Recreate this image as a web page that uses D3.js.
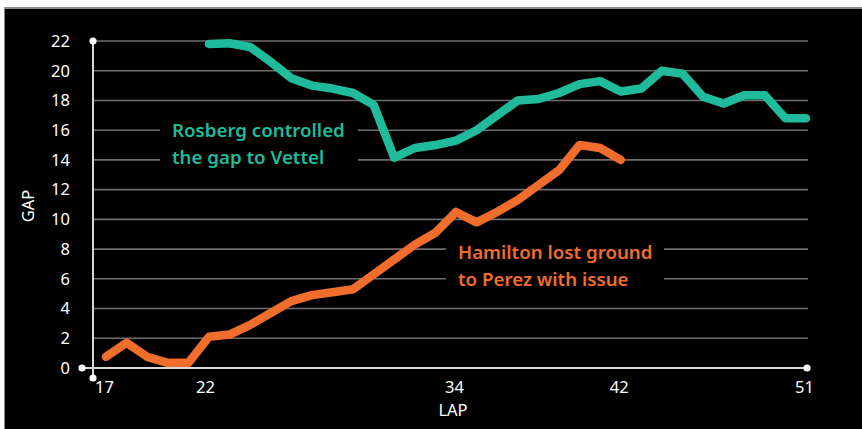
<html>
  <head>
    <title>Rosberg / Hamilton gap chart</title>
  <style type="text/css">
    body{
      margin: 0;
      background: white;
      font-family: "Noto Sans", sans-serif;
    }
  </style>
  </head>
  <body>
    <script src="https://cdn.jsdelivr.net/npm/d3@7"></script>
    <div id="graph_item"></div>
    <script>

// data
var rosbergLaps = [22,23,24,25,26,27,28,29,30,31,32,33,34,35,36,37,38,39,40,41,42,43,44,45,46,47,48,49,50,51];
var rosbergGap = [21.8,21.85,21.6,20.6,19.5,19.0,18.8,18.5,17.7,14.15,14.8,15.0,15.3,16.0,17.0,18.0,18.1,18.5,19.1,19.3,18.6,18.8,20.0,19.8,18.25,17.8,18.35,18.35,16.8,16.8];

var hamiltonLaps = [17,18,19,20,21,22,23,24,25,26,27,28,29,30,31,32,33,34,35,36,37,38,39,40,41,42];
var hamiltonGap = [0.75,1.7,0.75,0.35,0.35,2.1,2.25,2.9,3.7,4.5,4.9,5.1,5.3,6.3,7.3,8.3,9.1,10.5,9.8,10.5,11.3,12.3,13.3,15.0,14.8,14.0];

var yTicks = [0,2,4,6,8,10,12,14,16,18,20,22];
var xTicks = [17,22,34,42,51];

var teal = "#1fbb9b",
    orange = "#f06d2b";

var svg = d3.select("#graph_item")
  .append("svg")
    .attr("width", 862)
    .attr("height", 429);

// frame: white strip on top, grey border, black panel
svg.append("rect").attr("width", 862).attr("height", 429).attr("fill", "white");
svg.append("rect").attr("x", 4).attr("y", 7).attr("width", 858).attr("height", 422).attr("fill", "#8a8a8a");
svg.append("rect").attr("x", 5).attr("y", 9).attr("width", 857).attr("height", 420).attr("fill", "black");

var x = d3.scaleLinear().domain([17, 51]).range([106, 806]);
var y = d3.scaleLinear().domain([0, 22]).range([368, 41]);
var axisX = 93, axisRight = 808;

// grid lines
svg.append("g")
  .selectAll("line")
  .data(yTicks.filter(d => d > 0))
  .join("line")
    .attr("x1", axisX)
    .attr("x2", axisRight)
    .attr("y1", d => y(d))
    .attr("y2", d => y(d))
    .attr("stroke", "#6e6e6e")
    .attr("stroke-width", 1.6);

// y axis labels
var yAxis = svg.append("g")
  .attr("transform", "translate(" + (axisX - 20) + ",0)")
  .call(d3.axisLeft(y).tickValues(yTicks).tickSize(0).tickPadding(3))
  .call(g => g.select(".domain").remove());
yAxis.selectAll("text")
  .attr("fill", "white")
  .style("font-family", "Noto Sans, sans-serif")
  .style("font-size", "16.5px");

// x axis labels
var xAxis = svg.append("g")
  .attr("transform", "translate(0," + 381 + ")")
  .call(d3.axisBottom(x).tickValues(xTicks).tickSize(0).tickPadding(0).tickFormat(d3.format("")))
  .call(g => g.select(".domain").remove());
xAxis.selectAll("text")
  .attr("fill", "white")
  .attr("dx", function(d){ return d == 22 ? -4 : -2; })
  .style("font-family", "Noto Sans, sans-serif")
  .style("font-size", "16.5px");

svg.append("text")
  .attr("x", 453)
  .attr("y", 416)
  .attr("text-anchor", "middle")
  .attr("fill", "white")
  .style("font-size", "16.5px")
  .text("LAP");

svg.append("text")
  .attr("transform", "translate(34,206) rotate(-90)")
  .attr("text-anchor", "middle")
  .attr("fill", "white")
  .style("font-size", "16.5px")
  .text("GAP");

// axis lines with end dots
svg.append("line")
  .attr("x1", axisX).attr("x2", axisX)
  .attr("y1", y(22)).attr("y2", 378)
  .attr("stroke", "#d8d8d8").attr("stroke-width", 2);
svg.append("line")
  .attr("x1", 82).attr("x2", axisRight)
  .attr("y1", y(0)).attr("y2", y(0))
  .attr("stroke", "#d8d8d8").attr("stroke-width", 2);
svg.append("g")
  .selectAll("circle")
  .data([[axisX, y(22)], [axisRight - 1, y(0)], [82, y(0)], [axisX, 378]])
  .join("circle")
    .attr("cx", d => d[0])
    .attr("cy", d => d[1])
    .attr("r", 3.6)
    .attr("fill", "white");

// annotations (black box hides the grid behind the text)
function annotate(lines, x0, y0, w, color){
  svg.append("rect")
    .attr("x", x0 - 12).attr("y", y0 - 22)
    .attr("width", w).attr("height", 54)
    .attr("fill", "black");
  svg.append("text")
    .attr("x", x0)
    .attr("y", y0)
    .attr("fill", color)
    .style("font-size", "18.7px")
    .style("font-weight", 600)
    .selectAll("tspan")
    .data(lines)
    .join("tspan")
      .attr("x", x0)
      .attr("dy", (d, i) => i == 0 ? 0 : 26.5)
      .text(d => d);
}

var line = d3.line()
  .x(d => x(d[0]))
  .y(d => y(d[1]));

annotate(["Rosberg controlled", "the gap to Vettel"], 172, 137, 198, teal);
annotate(["Hamilton lost ground", "to Perez with issue"], 458, 259, 218, orange);

svg.append("path")
  .datum(d3.zip(rosbergLaps, rosbergGap))
  .attr("fill", "none")
  .attr("stroke", teal)
  .attr("stroke-width", 8.5)
  .attr("stroke-linejoin", "round")
  .attr("stroke-linecap", "round")
  .attr("d", line);

svg.append("path")
  .datum(d3.zip(hamiltonLaps, hamiltonGap))
  .attr("fill", "none")
  .attr("stroke", orange)
  .attr("stroke-width", 8.5)
  .attr("stroke-linejoin", "round")
  .attr("stroke-linecap", "round")
  .attr("d", line);

</script>
  </body>
</html>
